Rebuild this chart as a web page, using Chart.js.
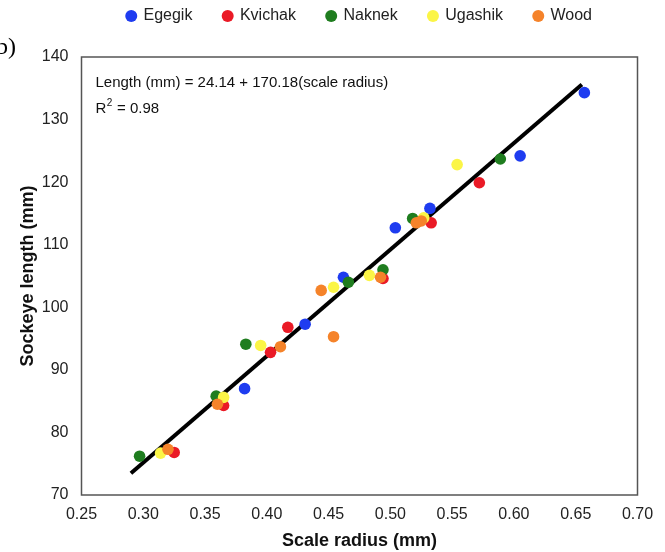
<!DOCTYPE html>
<html>
<head>
<meta charset="utf-8">
<script src="https://cdn.jsdelivr.net/npm/chart.js@4.4.1/dist/chart.umd.min.js"></script>
<style>
  html, body { margin: 0; padding: 0; background: #fff; }
</style>
</head>
<body>
<canvas id="radius-chart" width="665" height="552"></canvas>
<script>
// scale radius (mm) and fork length (mm) for each river system
const egegikRadius = [0.382, 0.431, 0.462, 0.504, 0.532, 0.605, 0.657];
const egegikLength = [87.0, 97.3, 104.8, 112.7, 115.8, 124.2, 134.3];

const kvichakRadius = [0.325, 0.365, 0.403, 0.417, 0.494, 0.533, 0.572];
const kvichakLength = [76.8, 84.3, 92.8, 96.8, 104.6, 113.5, 119.9];

const naknekRadius = [0.297, 0.359, 0.383, 0.466, 0.494, 0.518, 0.589];
const naknekLength = [76.2, 85.8, 94.1, 104.0, 106.0, 114.2, 123.7];

const ugashikRadius = [0.314, 0.365, 0.395, 0.454, 0.483, 0.527, 0.554];
const ugashikLength = [76.7, 85.6, 93.9, 103.2, 105.1, 114.3, 122.8];

const woodRadius = [0.320, 0.360, 0.411, 0.444, 0.454, 0.492, 0.521, 0.525];
const woodLength = [77.3, 84.5, 93.7, 102.7, 95.3, 104.8, 113.5, 113.8];

const riverNames = ['Egegik', 'Kvichak', 'Naknek', 'Ugashik', 'Wood'];
const riverColors = ['#1e3cf0', '#ea1a26', '#1f7d1f', '#fbf546', '#f5832a'];

// fitted regression: Length = 24.14 + 170.18 * radius
const fitIntercept = 24.14;
const fitSlope = 170.18;
const fitR2 = 0.98;
const fitRange = [0.29, 0.655];

const xTicks = [0.25, 0.30, 0.35, 0.40, 0.45, 0.50, 0.55, 0.60, 0.65, 0.70];
const yTicks = [70, 80, 90, 100, 110, 120, 130, 140];

const FONT = '"Liberation Sans", Arial, Helvetica, sans-serif';

const toPoints = (xs, ys) => xs.map((x, i) => ({ x, y: ys[i] }));
const riverData = [
  toPoints(egegikRadius, egegikLength),
  toPoints(kvichakRadius, kvichakLength),
  toPoints(naknekRadius, naknekLength),
  toPoints(ugashikRadius, ugashikLength),
  toPoints(woodRadius, woodLength),
];

const datasets = riverNames.map((name, i) => ({
  label: name,
  data: riverData[i],
  backgroundColor: riverColors[i],
  borderColor: riverColors[i],
  borderWidth: 0,
  pointRadius: 5.8,
  pointHoverRadius: 5.8,
  pointStyle: 'circle',
  order: riverNames.length - i,
}));

// regression line, drawn beneath the dots
datasets.push({
  label: 'fit',
  data: fitRange.map((x) => ({ x, y: fitIntercept + fitSlope * x })),
  showLine: true,
  borderColor: '#000',
  borderWidth: 4,
  pointRadius: 0,
  order: 10,
});

const framePlugin = {
  id: 'frame',
  beforeInit(chart) {
    // extra room under the legend row
    const legend = chart.legend;
    const fit = legend.fit;
    legend.fit = function () {
      fit.call(this);
      this.height = 80;
    };
  },
  afterDraw(chart) {
    const ctx = chart.ctx;
    const { left, top, right, bottom } = chart.chartArea;
    ctx.save();
    ctx.strokeStyle = '#555';
    ctx.lineWidth = 1.5;
    ctx.strokeRect(left, top, right - left, bottom - top);

    ctx.fillStyle = '#111';
    ctx.textBaseline = 'alphabetic';
    ctx.textAlign = 'left';
    ctx.font = '15px ' + FONT;
    const tx = left + 14;
    ctx.fillText('Length (mm) = ' + fitIntercept + ' + ' + fitSlope + '(scale radius)', tx, top + 30);
    const y2 = top + 56;
    ctx.fillText('R', tx, y2);
    const rw = ctx.measureText('R').width;
    ctx.font = '10px ' + FONT;
    ctx.fillText('2', tx + rw + 0.5, y2 - 7);
    const sw = ctx.measureText('2').width;
    ctx.font = '15px ' + FONT;
    ctx.fillText(' = ' + fitR2.toFixed(2), tx + rw + sw + 1, y2);

    // panel letter
    ctx.font = '24px "Liberation Serif", "Times New Roman", serif';
    ctx.textAlign = 'right';
    ctx.fillStyle = '#000';
    ctx.fillText('(b)', 16, 54);
    ctx.restore();
  },
};

new Chart(document.getElementById('radius-chart'), {
  type: 'scatter',
  data: { datasets },
  options: {
    responsive: false,
    animation: false,
    layout: { padding: { top: -23, right: 27.5, left: 0, bottom: 0 } },
    plugins: {
      tooltip: { enabled: false },
      legend: {
        position: 'top',
        fullSize: false,
        labels: {
          usePointStyle: true,
          boxWidth: 8.5,
          boxHeight: 8.5,
          padding: 31,
          color: '#222',
          font: { family: FONT, size: 16 },
          filter: (item) => item.datasetIndex < riverNames.length,
          sort: (a, b) => a.datasetIndex - b.datasetIndex,
        },
      },
    },
    scales: {
      x: {
        type: 'linear',
        min: 0.25,
        max: 0.70,
        afterBuildTicks: (s) => { s.ticks = xTicks.map((value) => ({ value })); },
        afterFit: (s) => { s.height = 57; },
        grid: { display: false, drawTicks: false },
        border: { display: false },
        ticks: {
          padding: 10,
          color: '#222',
          font: { family: FONT, size: 16 },
          callback: (v) => v.toFixed(2),
        },
        title: {
          display: true,
          text: 'Scale radius (mm)',
          color: '#111',
          font: { family: FONT, size: 18, weight: 'bold' },
          padding: { top: 0, bottom: 0 },
        },
      },
      y: {
        type: 'linear',
        min: 70,
        max: 140,
        afterBuildTicks: (s) => { s.ticks = yTicks.map((value) => ({ value })); },
        afterFit: (s) => { s.width = 81.5; },
        grid: { display: false, drawTicks: false },
        border: { display: false },
        ticks: {
          padding: 13,
          color: '#222',
          font: { family: FONT, size: 16 },
        },
        title: {
          display: true,
          text: 'Sockeye length (mm)',
          color: '#111',
          font: { family: FONT, size: 18, weight: 'bold' },
          padding: { top: 17, bottom: 0 },
        },
      },
    },
  },
  plugins: [framePlugin],
});
</script>
</body>
</html>
